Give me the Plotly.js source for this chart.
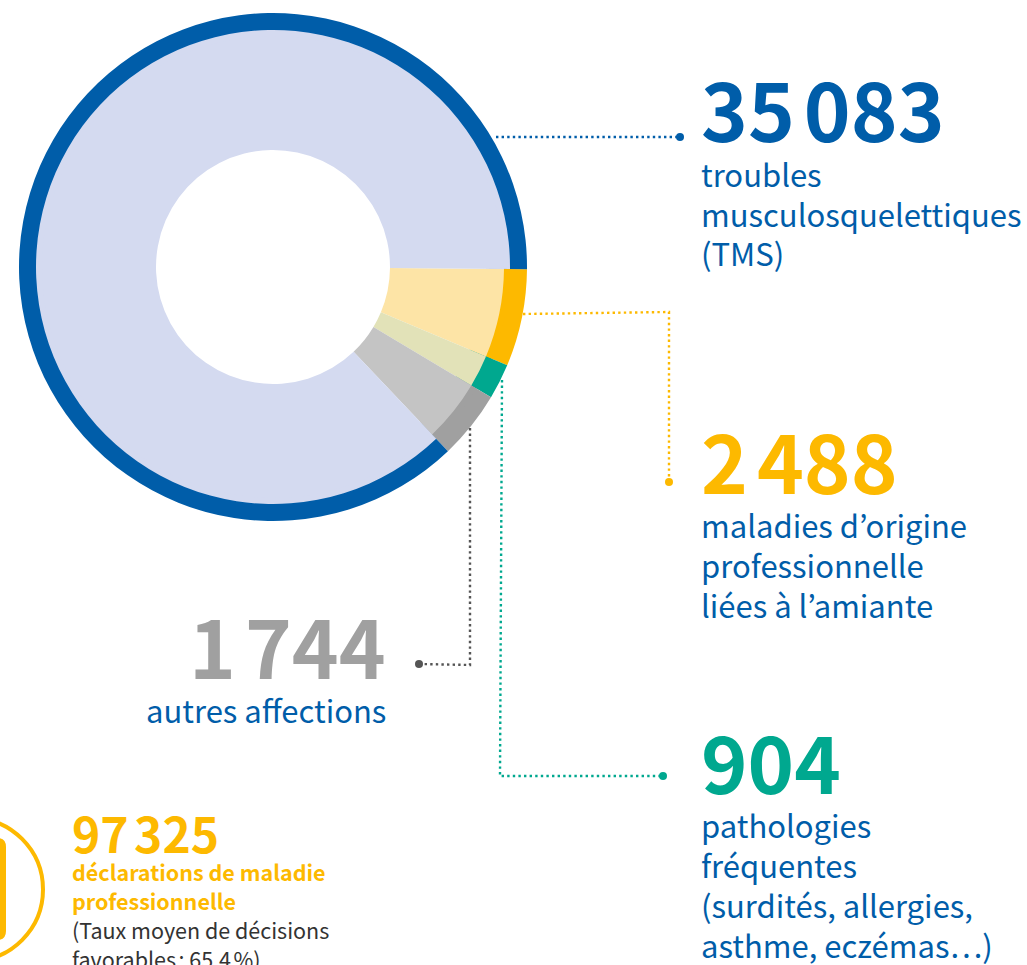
<!DOCTYPE html>
<html lang="fr">
<head>
<meta charset="utf-8">
<script src="https://cdn.plot.ly/plotly-3.0.1.min.js"></script>
<style>html,body{margin:0;padding:0;background:#fff;overflow:hidden}#chart{width:1027px;height:965px}</style>
</head>
<body>
<div id="chart"></div>
<script>
var categories = ["maladies d’origine professionnelle liées à l’amiante", "pathologies fréquentes", "autres affections", "troubles musculosquelettiques (TMS)"];
var values = [2488, 904, 1744, 35083];
var strongColors = ["#fdb900", "#00a88f", "#a0a0a0", "#005da9"];
var middleColors = ["#fdb900", "#00a88f", "#a0a0a0", "#d4daf0"];
var paleColors = ["#fde4a6", "#e2e2b8", "#c4c4c4", "#d4daf0"];
var BLUE = "#005da9", YELLOW = "#fdb900", TEAL = "#00a88f", GREY = "#a0a0a0", DARK = "#555555", TEXT = "#333333";
var NB = "\u202f";
var FONT = '"Noto Sans CJK JP", "Noto Sans", sans-serif';
var W = 1027, H = 965;
var cx = 273, cy = 267, R = 254, Rblue = 237, Rpale = 231, Rhole = 117, startAngle = 90.5;

function px(x) { return x / W; }
function py(y) { return 1 - y / H; }
function dom(r) { return { x: [px(cx - r), px(cx + r)], y: [py(cy + r), py(cy - r)] }; }

function ring(colors, r, hole) {
  return {
    type: "pie", labels: categories, values: values, sort: false, direction: "clockwise",
    rotation: startAngle, hole: hole, domain: dom(r), textinfo: "none", hoverinfo: "label+value",
    marker: { colors: colors, line: { width: 0 } }, showlegend: false
  };
}

function note(text, x, y, size, color, bold, anchor) {
  return {
    xref: "paper", yref: "paper", x: px(x), y: py(y), text: text, showarrow: false,
    xanchor: anchor || "left", yanchor: "middle", borderpad: 0, borderwidth: 0,
    font: { family: FONT, size: size, color: color, weight: bold ? 700 : 400 }
  };
}

function dotted(points, color) {
  var d = points.map(function (p, i) { return (i ? "L" : "M") + px(p[0]) + "," + py(p[1]); }).join(" ");
  return { type: "path", xref: "paper", yref: "paper", path: d, line: { color: color, width: 2.4, dash: "2.4px,3.2px" } };
}
function dot(x, y, color) {
  var r = 4;
  return { type: "circle", xref: "paper", yref: "paper", x0: px(x - r), x1: px(x + r), y0: py(y + r), y1: py(y - r), fillcolor: color, line: { width: 0 } };
}
var badgePath = "M" + px(-30) + "," + py(841) + " L" + px(-3) + "," + py(841) +
  " Q" + px(3) + "," + py(841) + " " + px(3) + "," + py(847) +
  " L" + px(3) + "," + py(931) +
  " Q" + px(3) + "," + py(937) + " " + px(-3) + "," + py(937) +
  " L" + px(-30) + "," + py(937);

var shapes = [
  dotted([[496, 137], [680, 137]], BLUE), dot(680, 137, BLUE),
  dotted([[523, 314], [669, 312], [669, 482]], YELLOW), dot(669, 482, YELLOW),
  dotted([[502, 380], [500, 776], [663, 776]], TEAL), dot(663, 776, TEAL),
  dotted([[470, 428], [470, 665], [420, 664]], DARK), dot(419, 664, DARK),
  { type: "circle", xref: "paper", yref: "paper", x0: px(-100), x1: px(43), y0: py(961), y1: py(818), fillcolor: "rgba(0,0,0,0)", line: { color: YELLOW, width: 4 } },
  { type: "path", xref: "paper", yref: "paper", path: badgePath, line: { color: YELLOW, width: 6 } }
];

var annotations = [
  note("35" + NB + "083", 701, 108, 79.5, BLUE, true),
  note("troubles", 700.5, 173, 31, BLUE),
  note("musculosquelettiques", 700.5, 213, 31, BLUE),
  note("(TMS)", 700.5, 253, 31, BLUE),
  note("2" + NB + "488", 701, 460, 79.5, YELLOW, true),
  note("maladies d’origine", 700.5, 524, 31, BLUE),
  note("professionnelle", 700.5, 564, 31, BLUE),
  note("liées à l’amiante", 700.5, 604, 31, BLUE),
  note("1" + NB + "744", 386, 644, 79.5, GREY, true, "right"),
  note("autres affections", 386, 709, 31, BLUE, false, "right"),
  note("904", 701, 759, 79, TEAL, true),
  note("pathologies", 700.5, 824, 31, BLUE),
  note("fréquentes", 700.5, 864, 31, BLUE),
  note("(surdités, allergies,", 700.5, 904, 31, BLUE),
  note("asthme, eczémas…)", 700.5, 944, 31, BLUE),
  note("97" + NB + "325", 72, 832, 48, YELLOW, true),
  note("déclarations de maladie", 72, 871, 21.5, YELLOW, true),
  note("professionnelle", 72, 900, 21.5, YELLOW, true),
  note("(Taux moyen de décisions", 72, 929, 21.5, TEXT),
  note("favorables" + NB + ": 65,4" + NB + "%)", 72, 958, 21.5, TEXT)
];

var layout = {
  width: W, height: H, margin: { l: 0, r: 0, t: 0, b: 0 },
  paper_bgcolor: "#ffffff", showlegend: false,
  shapes: shapes, annotations: annotations
};

Plotly.newPlot("chart", [
  ring(strongColors, R, 0.85),
  ring(middleColors, Rblue, 0.9),
  ring(paleColors, Rpale, Rhole / Rpale)
], layout, { displayModeBar: false, staticPlot: true });
</script>
</body>
</html>
